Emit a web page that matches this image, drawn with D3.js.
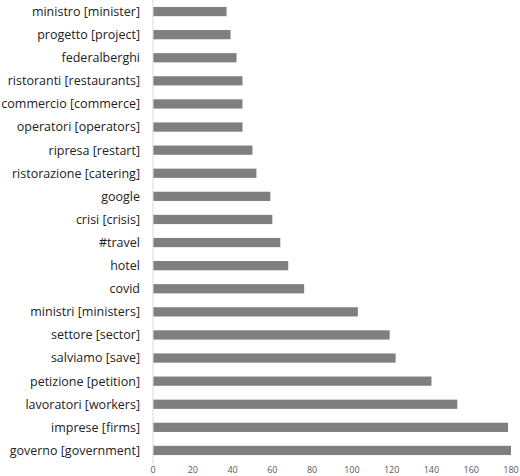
<!DOCTYPE html><html><head><meta charset="utf-8"><script src="https://cdn.jsdelivr.net/npm/d3@7"></script>
<style>body{margin:0;background:#fff}</style></head><body><svg id="c" width="520" height="476"></svg><script>
const categories=["ministro [minister]","progetto [project]","federalberghi","ristoranti [restaurants]","commercio [commerce]","operatori [operators]","ripresa [restart]","ristorazione [catering]","google","crisi [crisis]","#travel","hotel","covid","ministri [ministers]","settore [sector]","salviamo [save]","petizione [petition]","lavoratori [workers]","imprese [firms]","governo [government]"];
const values=[37,39,42,45,45,45,50,52,59,60,64,68,76,103,119,122,140,153,178.5,180];
const ticks=[0,20,40,60,80,100,120,140,160,180];
const svg=d3.select("#c");
const x=d3.scaleLinear().domain([0,180]).range([153,511]);
const y=d3.scaleBand().domain(categories).range([0,462]).paddingInner(0.6).paddingOuter(0.3);
svg.selectAll("rect").data(values).join("rect").attr("x",x(0)).attr("y",(d,i)=>y(categories[i])).attr("width",d=>x(d)-x(0)).attr("height",y.bandwidth()).attr("fill","#7f7f7f");
svg.append("line").attr("x1",153).attr("x2",153).attr("y1",0).attr("y2",463).attr("stroke","#d9d9d9");
svg.selectAll("text.c").data(categories).join("text").attr("class","c").attr("x",140).attr("y",d=>y(d)+y.bandwidth()/2).attr("dy","0.35em").attr("text-anchor","end").attr("font-family","Open Sans, sans-serif").attr("font-size",12.5).attr("fill","#222").text(d=>d);
svg.selectAll("text.t").data(ticks).join("text").attr("class","t").attr("x",d=>x(d)).attr("y",473).attr("text-anchor","middle").attr("font-family","Open Sans, sans-serif").attr("font-size",9).attr("fill","#595959").text(d=>d);
</script></body></html>
